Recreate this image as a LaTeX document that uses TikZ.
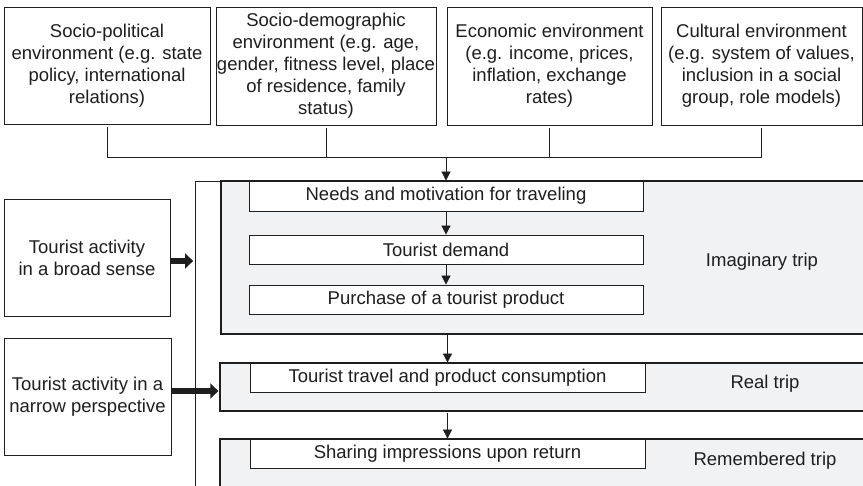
\documentclass[tikz,border=0pt]{standalone}
\usepackage{fontspec}
\setmainfont{Liberation Sans}
\usetikzlibrary{arrows.meta}
\definecolor{linec}{HTML}{1E1E1E}
\definecolor{grayfill}{HTML}{F1F2F4}
\begin{document}
\begin{tikzpicture}[x=1pt,y=-1pt,
  every node/.style={font=\fontsize{18.5}{22}\selectfont, text=linec},
  box/.style={draw=linec, line width=0.8pt, fill=white, inner sep=0pt, align=center},
  graybox/.style={draw=linec, line width=1.3pt, fill=grayfill, inner sep=0pt},
  frame/.style={draw=linec, line width=0.8pt, fill=white, inner sep=0pt},
  lbl/.style={inner sep=0pt},
  arr/.style={draw=linec, line width=0.8pt, -{Triangle[length=9pt,width=9pt]}},
  fatarr/.style={draw=linec, line width=6pt, -{Triangle[length=8pt,width=15pt]}},
  link/.style={draw=linec, line width=0.8pt}
]
\useasboundingbox (0,0) rectangle (863,486);
\clip (0,0) rectangle (863,486);
\fill[white] (0,0) rectangle (863,486);

% top environment boxes
\node[box, minimum width=206pt, minimum height=117pt] (env1) at (107,65.5)
  {Socio-political\\environment (e.g. state\\policy, international\\relations)};
\node[box, minimum width=220pt, minimum height=118pt] (env2) at (326,66)
  {Socio-demographic\\environment (e.g. age,\\gender, fitness level, place\\of residence, family\\status)};
\node[box, minimum width=205pt, minimum height=118pt] (env3) at (549.5,66)
  {Economic environment\\(e.g. income, prices,\\inflation, exchange\\rates)};
\node[box, minimum width=201pt, minimum height=118pt] (env4) at (761.5,66)
  {Cultural environment\\(e.g. system of values,\\inclusion in a social\\group, role models)};

% big white frame
\node[frame, minimum width=675pt, minimum height=319pt] (frame) at (532.5,340.5) {};

% gray stage boxes
\node[graybox, minimum width=649pt, minimum height=153pt] (imag) at (545.5,257.5) {};
\node[graybox, minimum width=650pt, minimum height=48pt] (real) at (545,387) {};
\node[graybox, minimum width=650pt, minimum height=61pt] (rem) at (545,469.5) {};

% inner step boxes
\node[box, minimum width=394pt, minimum height=30pt] (needs) at (446,196) {Needs and motivation for traveling};
\node[box, minimum width=394pt, minimum height=29pt] (demand) at (446,249.5) {Tourist demand};
\node[box, minimum width=394pt, minimum height=29pt] (purchase) at (446,299.5) {Purchase of a tourist product};
\node[box, minimum width=395pt, minimum height=29pt] (travel) at (447.5,377.5) {Tourist travel and product consumption};
\node[box, minimum width=395pt, minimum height=29pt] (sharing) at (447.5,453.5) {Sharing impressions upon return};

% stage labels
\node[lbl] (limag) at (762,262) {Imaginary trip};
\node[lbl] (lreal) at (765,384) {Real trip};
\node[lbl] (lrem) at (765,461) {Remembered trip};

% left boxes
\node[box, minimum width=166pt, minimum height=117pt] (broad) at (87,257.5)
  {Tourist activity\\in a broad sense};
\node[box, minimum width=167pt, minimum height=117pt] (narrow) at (87.5,396.5)
  {Tourist activity in a\\narrow perspective};

% bracket from environment boxes
\coordinate (hb) at (446,157);
\draw[link] ([yshift=-3pt]env1.south) -- (env1.south |- hb) -- (env4.south |- hb) -- ([yshift=-3pt]env4.south);
\draw[link] ([yshift=-3pt]env2.south) -- (env2.south |- hb);
\draw[link] ([yshift=-3pt]env3.south) -- (env3.south |- hb);
\draw[arr] (needs.north |- hb) -- (needs.north);

% flow arrows
\draw[arr] (needs.south) -- (demand.north);
\draw[arr] (demand.south) -- (purchase.north);
\draw[arr] (travel.north |- imag.south) -- (travel.north);
\draw[arr] ([yshift=-1.5pt]sharing.north |- real.south) -- (sharing.north);

% thick arrows
\draw[fatarr] ([yshift=-3.5pt]broad.east) -- ([yshift=-3.5pt,xshift=-1.5pt]broad.east -| frame.west);
\draw[fatarr] ([yshift=5.5pt]narrow.east) -- ([yshift=5.5pt,xshift=-1pt]narrow.east -| real.west);
\end{tikzpicture}
\end{document}
